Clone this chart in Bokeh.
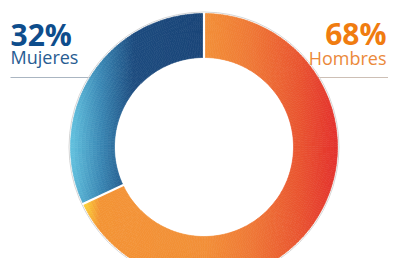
import numpy as np
from bokeh.plotting import figure
from bokeh.models import Range1d, ColumnDataSource
from bokeh.core.properties import value
from bokeh.embed import file_html
from bokeh.resources import INLINE

# ---- data ----
labels = ["Mujeres", "Hombres"]
shares = [32, 68]
pct_labels = ["32%", "68%"]

# ---- layout (reference pixels, y measured down from top) ----
W, H = 388, 258
PAGE_H = 274
def py(y):  # reference y -> data y
    return PAGE_H - y

p = figure(width=W, height=H, x_range=Range1d(0, W), y_range=Range1d(py(H), py(0)),
           output_backend="svg", toolbar_location=None, min_border=0)
p.axis.visible = False
p.grid.visible = False
p.outline_line_color = None
p.background_fill_color = "white"
p.border_fill_color = "white"

cx, cy = 203.5, py(146.5)
R_out, R_in = 133.5, 89.5

def hex2rgb(h):
    h = h.lstrip("#")
    return [int(h[i:i + 2], 16) for i in (0, 2, 4)]

def gradient(xs, stops):
    sx = [s[0] for s in stops]
    cols = np.array([hex2rgb(s[1]) for s in stops], dtype=float)
    out = []
    for x in xs:
        c = [int(round(np.interp(x, sx, cols[:, k]))) for k in range(3)]
        out.append("#%02x%02x%02x" % tuple(c))
    return out

grad_stops = [
    [(70, "#63c2df"), (100, "#3a87b4"), (133, "#1b4a7e"), (205, "#1a4477")],
    [(80, "#fde23a"), (99, "#f39334"), (205, "#f28f37"), (250, "#ef7835"), (300, "#e9532f"), (338, "#e3302e")],
]

# angles: start at top, Mujeres anticlockwise on the left, Hombres clockwise on the right
fr = np.array(shares, dtype=float) / sum(shares)
bounds = np.pi / 2 + 2 * np.pi * np.concatenate([[0], np.cumsum(fr)])

n_rings = 12
ring_edges = np.linspace(R_in, R_out, n_rings + 1)
rows = dict(ir=[], orr=[], sa=[], ea=[], col=[])
for i in range(len(shares)):
    a0, a1 = bounds[i], bounds[i + 1]
    n_ang = int(np.ceil(np.degrees(a1 - a0)))
    a_edges = np.linspace(a0, a1, n_ang + 1)
    for j in range(n_rings):
        rm = 0.5 * (ring_edges[j] + ring_edges[j + 1])
        am = 0.5 * (a_edges[:-1] + a_edges[1:])
        xs = cx + rm * np.cos(am)
        cols = gradient(xs, grad_stops[i])
        rows["ir"] += [ring_edges[j]] * n_ang
        rows["orr"] += [ring_edges[j + 1]] * n_ang
        rows["sa"] += list(a_edges[:-1])
        rows["ea"] += list(a_edges[1:])
        rows["col"] += cols

# label underlines (drawn first, stop at the ring's outer edge)
line_y = py(77)
dx = np.sqrt(R_out ** 2 - (line_y - cy) ** 2)
p.segment(x0=[10], y0=[line_y], x1=[cx - dx], y1=[line_y], line_color="#aab5c1", line_width=1)
p.segment(x0=[cx + dx], y0=[line_y], x1=[W], y1=[line_y], line_color="#cdbfb5", line_width=1)

# thin outer outline
p.circle(x=[cx], y=[cy], radius=R_out + 1.5, fill_color=None, line_color="#d6d6d6", line_width=1)

src = ColumnDataSource(rows)
p.annular_wedge(x=cx, y=cy, inner_radius="ir", outer_radius="orr", start_angle="sa", end_angle="ea",
                fill_color="col", line_color="col", line_width=0.6, source=src)

# white separators between slices
sep = bounds[:-1]
p.segment(x0=cx + (R_in - 1) * np.cos(sep), y0=cy + (R_in - 1) * np.sin(sep),
          x1=cx + (R_out + 1) * np.cos(sep), y1=cy + (R_out + 1) * np.sin(sep),
          line_color="white", line_width=2.2)

# labels
font = value("Open Sans")
p.text(x=[10], y=[py(34)], text=[pct_labels[0]], text_font=font, text_font_style="bold",
       text_font_size="30px", text_color="#0e4d8c", text_align="left", text_baseline="alphabetic")
p.text(x=[10], y=[py(56)], text=[labels[0]], text_font=font,
       text_font_size="18px", text_color="#285c92", text_align="left", text_baseline="alphabetic")
p.text(x=[386], y=[py(33)], text=[pct_labels[1]], text_font=font, text_font_style="bold",
       text_font_size="30px", text_color="#f07c10", text_align="right", text_baseline="alphabetic")
p.text(x=[386], y=[py(57)], text=[labels[1]], text_font=font,
       text_font_size="18px", text_color="#eb893a", text_align="right", text_baseline="alphabetic")

open("out.html", "w").write(file_html(p, INLINE))
